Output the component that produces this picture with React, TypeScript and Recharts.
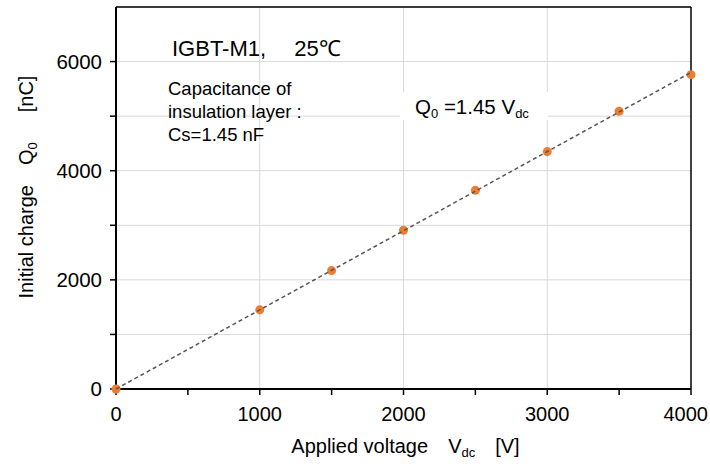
import {
  ComposedChart,
  Scatter,
  XAxis,
  YAxis,
  ZAxis,
  CartesianGrid,
  ReferenceLine,
  Customized,
} from "recharts";

// measured points
const VOLTAGE = [0, 1000, 1500, 2000, 2500, 3000, 3500, 4000];
const CHARGE = [0, 1450, 2170, 2910, 3640, 4350, 5090, 5760];

// fitted line Q0 = 1.45 Vdc, end points
const FIT_V = [0, 4000];
const FIT_Q = [0, 5800];

const X_TICKS = [0, 500, 1000, 1500, 2000, 2500, 3000, 3500, 4000];
const X_GRID = [1000, 2000, 3000];
const Y_TICKS = [0, 1000, 2000, 3000, 4000, 5000, 6000];

const points = VOLTAGE.map((v, i) => ({ v, q: CHARGE[i] }));
const fit = FIT_V.map((v, i) => ({ v, q: FIT_Q[i] }));

const SANS = "'Liberation Sans', Arial, sans-serif";
const ORANGE = "#ED7D31";

function XTick({ x, y, payload }: any) {
  const v = payload.value;
  if (v % 1000 !== 0) return <g />;
  const last = v === X_TICKS[X_TICKS.length - 1];
  return (
    <text
      x={last ? x + 17 : x}
      y={y}
      dy="0.71em"
      textAnchor={last ? "end" : "middle"}
      fontFamily={SANS}
      fontSize={20}
      fill="#000"
    >
      {v}
    </text>
  );
}

function XTitle({ viewBox }: any) {
  const cx = viewBox.x + viewBox.width / 2;
  return (
    <text x={cx + 2} y={453} textAnchor="middle" fontFamily={SANS} fontSize={20} fill="#000">
      Applied voltage{"\u2003"}V
      <tspan fontSize={13} dy={4}>dc</tspan>
      <tspan dy={-4}>{"\u2003"}[V]</tspan>
    </text>
  );
}

function YTitle({ viewBox }: any) {
  const cy = viewBox.y + viewBox.height / 2 - 11;
  return (
    <text
      x={0}
      y={0}
      transform={`translate(33, ${cy}) rotate(-90)`}
      textAnchor="middle"
      fontFamily={SANS}
      fontSize={20}
      fill="#000"
    >
      Initial charge{"\u2003"}Q
      <tspan fontSize={13} dy={4}>0</tspan>
      <tspan dy={-4}>{"\u2003\u2002"}[nC]</tspan>
    </text>
  );
}

function Notes() {
  return (
    <g>
      <text x={172} y={56} fontFamily={SANS} fontSize={22} fill="#000">
        IGBT-M1,{"\u2003 "}25℃
      </text>
      <text fontFamily={SANS} fontSize={18.5} fill="#000">
        <tspan x={168} y={95}>Capacitance of</tspan>
        <tspan x={168} y={118}>insulation layer :</tspan>
        <tspan x={168} y={141}>Cs=1.45 nF</tspan>
      </text>
      <rect x={400} y={92} width={148} height={28} fill="#fff" />
      <text x={415} y={114} fontFamily={SANS} fontSize={20.5} fill="#000">
        Q<tspan fontSize={13} dy={4}>0</tspan>
        <tspan dy={-4}> =1.45 V</tspan>
        <tspan fontSize={13} dy={4}>dc</tspan>
      </text>
    </g>
  );
}

export default function App() {
  return (
    <div style={{ position: "absolute", left: 0, top: 0, background: "#fff" }}>
      <ComposedChart width={710} height={464} margin={{ top: 7, right: 19, left: 0, bottom: 0 }}>
        <CartesianGrid stroke="#d9d9d9" strokeWidth={1} verticalValues={X_GRID} />
        <XAxis
          type="number"
          dataKey="v"
          domain={[0, 4000]}
          ticks={X_TICKS}
          tick={<XTick />}
          axisLine={{ stroke: "#000", strokeWidth: 2 }}
          tickLine={{ stroke: "#000", strokeWidth: 1.5 }}
          tickSize={6}
          tickMargin={12}
          height={75}
          label={{ content: XTitle }}
        />
        <YAxis
          type="number"
          dataKey="q"
          domain={[0, 7000]}
          ticks={Y_TICKS}
          tickFormatter={(v: number) => (v % 2000 === 0 ? String(v) : "")}
          tick={{ fill: "#000", fontSize: 20.5, fontFamily: SANS }}
          axisLine={{ stroke: "#000", strokeWidth: 2 }}
          tickLine={{ stroke: "#000", strokeWidth: 1.5 }}
          tickSize={6}
          tickMargin={8}
          width={116}
          label={{ content: YTitle }}
        />
        <ZAxis range={[85, 85]} />
        <ReferenceLine y={7000} stroke="#000" strokeWidth={1.5} />
        <ReferenceLine x={4000} stroke="#000" strokeWidth={1.5} />
        <Scatter data={points} fill={ORANGE} isAnimationActive={false} />
        <Scatter
          data={fit}
          line={{ stroke: "#555", strokeWidth: 1.5, strokeDasharray: "4 3" }}
          shape={() => <g />}
          isAnimationActive={false}
        />
        <Customized component={Notes} />
      </ComposedChart>
    </div>
  );
}
